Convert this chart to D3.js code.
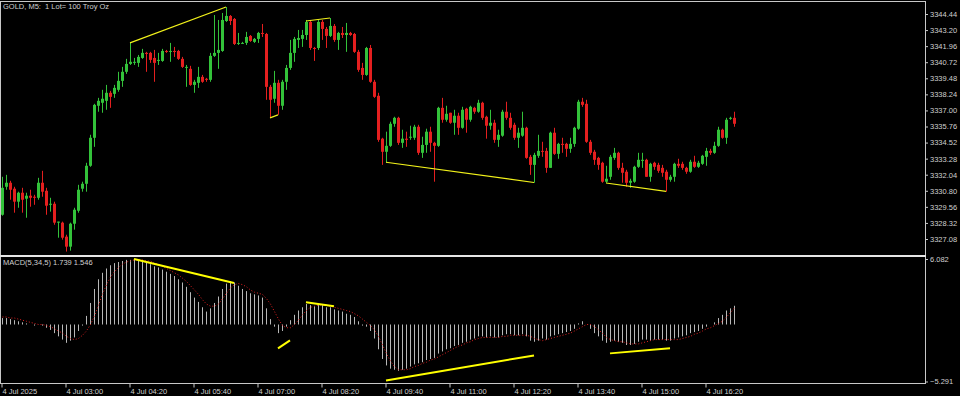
<!DOCTYPE html>
<html><head><meta charset="utf-8">
<script src="https://cdn.jsdelivr.net/npm/d3@7"></script>
<style>
html,body{margin:0;padding:0;background:#000;overflow:hidden}
svg{display:block}
text{font-family:"Liberation Sans",Arial,sans-serif;fill:#d0d0d0;white-space:pre}
</style></head><body><svg id="c" width="960" height="396"></svg>
<script>
const symbolTitle = "GOLD, M5:  1 Lot= 100 Troy Oz";
const macdTitle = "MACD(5,34,5) 1.739 1.546";

const open = [3328.95,3331.11,3331.42,3330.96,3329.96,3330.65,3330.19,3330.42,3330.34,3330.26,
3331.42,3330.80,3329.72,3329.80,3328.34,3328.34,3327.26,3326.49,3328.26,3329.26,
3330.96,3331.34,3332.73,3334.89,3337.36,3337.59,3337.74,3338.36,3338.28,3338.59,
3339.28,3339.98,3340.59,3340.67,3340.67,3341.05,3341.44,3341.44,3341.05,3340.82,
3340.82,3341.59,3341.59,3341.59,3341.59,3340.98,3340.36,3340.21,3338.97,3339.13,
3339.59,3339.44,3339.36,3341.21,3341.44,3341.59,3343.90,3344.29,3344.06,3342.13,
3342.21,3342.21,3342.75,3342.29,3342.52,3342.98,3342.90,3338.82,3337.90,3339.13,
3337.36,3339.21,3340.28,3341.44,3342.44,3342.52,3342.82,3343.83,3341.82,3341.82,
3343.83,3343.29,3342.75,3343.52,3342.44,3342.98,3342.82,3342.98,3342.90,3341.52,
3340.28,3339.74,3341.82,3339.21,3338.13,3334.82,3333.81,3334.27,3335.97,3336.43,
3334.50,3334.82,3334.89,3334.89,3335.74,3333.73,3334.34,3335.36,3334.50,3334.27,
3337.20,3336.28,3336.82,3336.05,3336.59,3335.66,3337.13,3336.28,3337.20,3336.90,
3337.59,3336.51,3335.82,3336.05,3334.73,3335.05,3336.90,3336.43,3335.89,3334.89,
3335.05,3335.66,3333.42,3332.80,3333.50,3333.88,3333.88,3332.57,3335.28,3333.65,
3334.42,3334.42,3334.04,3334.42,3335.59,3337.67,3337.51,3334.58,3333.81,3333.34,
3332.96,3331.50,3331.88,3333.34,3333.73,3332.57,3332.27,3331.42,3331.50,3332.65,
3333.11,3333.19,3331.88,3332.96,3332.80,3332.57,3332.27,3331.65,3331.88,3332.88,
3332.88,3332.57,3332.27,3333.04,3332.65,3332.88,3333.42,3333.88,3333.73,3334.27,
3335.51,3334.89,3336.36,3336.43];

const high = [3331.88,3332.03,3331.57,3331.11,3330.73,3331.03,3330.65,3330.88,3330.49,3331.80,
3332.34,3331.03,3330.26,3329.96,3328.42,3328.42,3327.41,3328.34,3329.49,3331.26,
3331.50,3332.96,3335.12,3337.51,3337.97,3338.59,3338.97,3338.51,3338.97,3339.98,
3340.36,3340.98,3342.21,3341.05,3341.28,3341.75,3341.52,3341.52,3341.67,3341.44,
3341.75,3341.67,3342.21,3341.90,3341.67,3341.13,3340.51,3340.44,3339.36,3340.36,
3339.74,3339.51,3341.44,3344.36,3343.98,3344.52,3344.98,3344.36,3344.13,3342.98,
3342.29,3343.06,3342.82,3342.59,3343.06,3343.67,3342.98,3338.97,3340.05,3339.36,
3339.36,3340.51,3342.44,3342.67,3343.21,3343.21,3343.98,3343.98,3341.90,3343.98,
3343.98,3343.44,3344.13,3343.67,3343.06,3343.44,3343.75,3343.06,3342.98,3341.67,
3340.67,3341.90,3342.05,3339.36,3338.36,3334.89,3335.36,3336.13,3336.51,3336.51,
3335.51,3335.36,3335.82,3335.89,3335.89,3334.97,3335.59,3335.74,3334.58,3337.28,
3337.97,3337.36,3336.82,3337.05,3336.82,3337.28,3337.20,3337.36,3337.28,3337.82,
3337.67,3336.59,3337.05,3336.28,3335.51,3337.05,3337.67,3336.82,3336.05,3335.66,
3336.90,3335.74,3333.57,3333.73,3335.12,3334.58,3334.11,3335.36,3335.66,3334.50,
3334.89,3334.50,3334.89,3335.74,3337.82,3337.97,3337.82,3334.73,3333.96,3333.42,
3333.04,3332.73,3333.57,3334.11,3333.81,3332.96,3332.42,3331.73,3332.73,3333.73,
3333.73,3333.27,3332.96,3333.04,3332.96,3332.80,3332.42,3332.03,3332.96,3333.27,
3333.04,3332.65,3333.19,3333.50,3333.11,3333.57,3334.11,3334.04,3334.58,3335.74,
3335.59,3336.43,3336.51,3336.90];

const low = [3328.88,3330.88,3330.11,3329.11,3329.49,3329.11,3328.72,3329.57,3329.72,3330.11,
3330.34,3328.95,3329.19,3328.18,3327.18,3327.03,3326.11,3326.18,3327.80,3329.11,
3330.73,3330.73,3332.65,3334.19,3336.90,3336.82,3337.05,3337.20,3337.97,3338.44,
3338.82,3339.82,3340.51,3340.51,3340.36,3340.98,3339.98,3340.67,3339.21,3340.51,
3340.75,3341.44,3340.75,3341.13,3340.90,3340.28,3338.82,3338.90,3338.36,3338.74,
3339.13,3339.21,3339.21,3341.13,3340.21,3341.52,3343.83,3343.59,3342.05,3342.05,
3342.13,3342.05,3342.29,3342.21,3342.21,3342.67,3337.82,3336.43,3337.59,3336.66,
3337.05,3338.59,3340.13,3340.75,3341.82,3341.90,3342.44,3341.67,3340.82,3341.67,
3342.44,3341.82,3342.67,3342.29,3341.67,3342.59,3341.52,3342.75,3341.44,3339.98,
3339.36,3339.67,3339.13,3337.97,3334.58,3332.80,3332.96,3334.19,3335.74,3334.34,
3334.11,3334.19,3334.73,3334.73,3333.57,3333.34,3333.73,3333.81,3331.50,3334.19,
3336.05,3336.13,3335.97,3335.12,3335.12,3335.59,3335.28,3336.13,3336.74,3336.82,
3336.28,3334.82,3335.51,3334.50,3334.19,3334.97,3336.28,3335.51,3334.73,3334.11,
3334.97,3333.27,3332.03,3331.42,3333.34,3333.42,3332.19,3332.57,3333.57,3333.27,
3333.73,3333.42,3333.73,3334.19,3335.51,3337.28,3334.50,3333.57,3332.80,3332.42,
3331.42,3331.42,3331.65,3333.19,3332.42,3331.42,3331.11,3331.03,3331.42,3332.57,
3332.57,3331.88,3331.50,3332.42,3332.19,3331.88,3330.73,3331.50,3331.50,3332.57,
3332.42,3332.11,3332.19,3332.57,3332.57,3332.80,3332.73,3333.57,3333.65,3334.19,
3334.82,3334.42,3336.28,3335.74];

const close = [3331.03,3331.42,3330.88,3329.96,3330.65,3330.11,3330.42,3330.26,3330.26,3331.42,
3330.73,3329.65,3329.80,3328.34,3328.42,3327.18,3326.49,3328.26,3329.34,3330.88,
3331.34,3332.73,3334.89,3337.43,3337.74,3337.90,3338.36,3338.05,3338.74,3339.28,
3339.98,3340.59,3340.75,3340.75,3341.13,3341.44,3341.36,3340.90,3340.67,3340.90,
3341.59,3341.52,3341.59,3341.52,3340.98,3340.36,3340.36,3338.97,3339.21,3339.59,
3339.21,3339.36,3341.21,3341.44,3341.67,3343.98,3344.29,3343.90,3342.13,3342.21,
3342.21,3342.67,3342.36,3342.52,3342.98,3342.90,3338.82,3337.82,3339.13,3337.36,
3339.21,3340.28,3341.44,3342.52,3342.59,3342.82,3343.83,3341.82,3341.75,3343.83,
3343.29,3342.75,3343.52,3342.44,3342.98,3342.82,3342.98,3342.82,3341.52,3340.13,
3339.74,3341.82,3339.21,3338.05,3334.73,3333.81,3334.27,3335.97,3336.43,3334.50,
3334.82,3334.73,3334.97,3335.74,3333.73,3334.34,3335.36,3334.50,3334.27,3337.20,
3336.28,3336.74,3336.05,3336.59,3335.66,3337.05,3336.28,3337.28,3336.90,3337.59,
3336.43,3335.82,3336.05,3334.73,3335.12,3336.90,3336.43,3335.66,3334.89,3335.28,
3335.66,3333.34,3332.80,3333.57,3333.88,3333.81,3332.57,3335.28,3333.65,3334.42,
3334.34,3334.04,3334.42,3335.66,3337.67,3337.43,3334.58,3333.73,3333.19,3332.80,
3331.50,3331.73,3333.42,3333.73,3332.57,3332.19,3331.42,3331.57,3332.65,3333.19,
3333.19,3331.88,3332.88,3332.65,3332.34,3332.19,3331.65,3331.88,3332.88,3332.73,
3332.57,3332.27,3333.04,3332.65,3332.96,3333.50,3333.88,3333.73,3334.27,3335.51,
3334.89,3336.28,3336.43,3335.97];

const macdMain = [0.6,0.6,0.5,0.4,0.3,0.2,0.1,0.0,-0.1,0.0,
-0.1,-0.3,-0.5,-0.8,-1.1,-1.4,-1.7,-1.5,-1.2,-0.6,
-0.1,0.8,2.0,3.3,4.2,4.8,5.2,5.5,5.7,5.8,
5.9,6.0,6.0,6.0,6.0,5.9,5.8,5.6,5.4,5.3,
5.1,4.9,4.7,4.5,4.2,3.9,3.5,3.0,2.5,2.1,
1.6,1.2,1.5,2.0,2.6,3.3,3.8,4.0,3.9,3.6,
3.3,3.1,2.9,2.8,2.7,2.5,1.5,0.5,-0.2,-0.8,
-0.6,-0.2,0.4,0.9,1.3,1.6,1.9,1.8,1.7,1.8,
1.8,1.6,1.6,1.4,1.3,1.2,1.0,0.9,0.7,0.3,
-0.1,-0.2,-0.6,-1.3,-2.3,-3.2,-3.8,-4.1,-4.2,-4.3,
-4.2,-4.1,-3.9,-3.7,-3.6,-3.5,-3.3,-3.2,-3.1,-2.7,
-2.5,-2.3,-2.2,-2.0,-1.9,-1.7,-1.6,-1.4,-1.3,-1.1,
-1.1,-1.2,-1.1,-1.2,-1.2,-1.0,-0.9,-0.9,-1.0,-1.0,
-0.9,-1.1,-1.5,-1.6,-1.5,-1.3,-1.4,-1.1,-1.0,-0.9,
-0.8,-0.7,-0.6,-0.4,0.1,0.3,0.0,-0.4,-0.8,-1.1,
-1.5,-1.7,-1.6,-1.5,-1.6,-1.7,-1.9,-1.9,-1.8,-1.6,
-1.4,-1.4,-1.5,-1.4,-1.4,-1.4,-1.5,-1.5,-1.3,-1.2,
-1.1,-1.0,-0.8,-0.7,-0.6,-0.4,-0.2,0.0,0.2,0.6,
0.9,1.3,1.5,1.739];

const macdSignal = [0.7,0.7,0.6,0.6,0.5,0.4,0.3,0.2,0.1,0.0,
0.0,-0.1,-0.2,-0.4,-0.6,-0.8,-1.1,-1.3,-1.4,-1.3,
-1.0,-0.6,0.0,0.8,1.8,2.8,3.7,4.4,4.9,5.3,
5.6,5.8,5.9,6.0,6.0,6.0,5.9,5.9,5.7,5.6,
5.4,5.2,5.0,4.8,4.6,4.3,4.0,3.6,3.2,2.8,
2.3,1.9,1.7,1.7,1.9,2.4,2.9,3.4,3.7,3.8,
3.7,3.5,3.2,3.0,2.9,2.8,2.4,1.9,1.2,0.5,
-0.1,-0.3,-0.3,0.0,0.4,0.9,1.3,1.6,1.7,1.8,
1.8,1.8,1.7,1.6,1.5,1.4,1.3,1.2,1.0,0.8,
0.5,0.2,-0.1,-0.5,-1.1,-1.9,-2.7,-3.4,-3.9,-4.2,
-4.2,-4.2,-4.1,-3.9,-3.8,-3.6,-3.5,-3.3,-3.2,-3.0,
-2.8,-2.6,-2.4,-2.2,-2.0,-1.9,-1.7,-1.6,-1.4,-1.3,
-1.2,-1.2,-1.2,-1.2,-1.2,-1.1,-1.1,-1.0,-1.0,-1.0,
-1.0,-1.0,-1.1,-1.3,-1.4,-1.5,-1.4,-1.3,-1.2,-1.1,
-1.0,-0.9,-0.8,-0.6,-0.4,-0.2,0.0,0.0,-0.2,-0.5,
-0.8,-1.2,-1.4,-1.5,-1.6,-1.6,-1.7,-1.8,-1.8,-1.8,
-1.7,-1.6,-1.5,-1.4,-1.4,-1.4,-1.4,-1.4,-1.4,-1.4,
-1.3,-1.2,-1.1,-0.9,-0.8,-0.6,-0.4,-0.3,-0.1,0.1,
0.3,0.7,1.1,1.546];

const priceTicks = [3344.44,3343.20,3341.96,3340.72,3339.48,3338.24,3337.00,3335.76,3334.52,3333.28,3332.04,3330.80,3329.56,3328.32,3327.08];
const macdTicks = [6.082,-5.291];
const timeTickBars = [0,16,32,48,64,80,96,112,128,144,160,176];
const timeTickLabels = ["4 Jul 2025","4 Jul 03:00","4 Jul 04:20","4 Jul 05:40","4 Jul 07:00","4 Jul 08:20","4 Jul 09:40","4 Jul 11:00","4 Jul 12:20","4 Jul 13:40","4 Jul 15:00","4 Jul 16:20"];

// trend lines: [bar1, value1, bar2, value2]
const priceTrends = [[32,3342.21,56,3344.98],[67,3336.43,69,3336.66],[76,3343.90,82,3344.13],[96,3333.00,133,3331.44],[151,3331.40,166,3330.75]];
const macdTrends = [[33,6.08,58,3.85],[69,-2.21,72,-1.47],[76,2.07,83,1.70],[96,-5.20,133,-2.87],[152,-2.68,167,-2.21]];

const n = open.length;
const svg = d3.select("#c");
const axisX = 925;
const frame = "#c8c8c8";
const bull = "#33c23a", bear = "#e41f1f";

const x = d3.scaleLinear().domain([0, n - 1]).range([2, 2 + 4 * (n - 1)]);
const y = d3.scaleLinear().domain([3327.08, 3344.44]).range([239, 14]);
const ym = d3.scaleLinear().domain([-5.291, 6.082]).range([381.5, 259]);

const defs = svg.append("defs");
defs.append("clipPath").attr("id", "cp1").append("rect").attr("x", 0).attr("y", 2).attr("width", axisX).attr("height", 253);
defs.append("clipPath").attr("id", "cp2").append("rect").attr("x", 0).attr("y", 257).attr("width", axisX).attr("height", 126);

svg.append("line").attr("x1", 0).attr("x2", axisX).attr("y1", 1.5).attr("y2", 1.5).attr("stroke", frame);
svg.append("line").attr("x1", 0.5).attr("x2", 0.5).attr("y1", 1).attr("y2", 384).attr("stroke", frame);
svg.append("line").attr("x1", axisX + 0.5).attr("x2", axisX + 0.5).attr("y1", 1).attr("y2", 384).attr("stroke", frame);
svg.append("rect").attr("x", 0).attr("y", 255).attr("width", axisX + 1).attr("height", 2).attr("fill", "#e6e6e6");
svg.append("line").attr("x1", 0).attr("x2", axisX + 1).attr("y1", 383.5).attr("y2", 383.5).attr("stroke", frame);

const gp = svg.append("g").attr("clip-path", "url(#cp1)");
const idx = d3.range(n);
gp.selectAll("line.w").data(idx).join("line")
  .attr("x1", i => x(i) + 0.5).attr("x2", i => x(i) + 0.5)
  .attr("y1", i => y(high[i])).attr("y2", i => y(low[i]))
  .attr("stroke", i => close[i] >= open[i] ? bull : bear).attr("stroke-width", 1);
gp.selectAll("rect.b").data(idx).join("rect")
  .attr("x", i => x(i) - 1).attr("width", 3)
  .attr("y", i => Math.min(y(open[i]), y(close[i])))
  .attr("height", i => Math.max(1, Math.abs(y(open[i]) - y(close[i]))))
  .attr("fill", i => close[i] >= open[i] ? bull : bear);

gp.selectAll("line.t").data(priceTrends).join("line")
  .attr("x1", d => x(d[0])).attr("y1", d => y(d[1])).attr("x2", d => x(d[2])).attr("y2", d => y(d[3]))
  .attr("stroke", "#f2f21a").attr("stroke-width", 1.2);

const gm = svg.append("g").attr("clip-path", "url(#cp2)");
gm.selectAll("line.h").data(idx).join("line")
  .attr("x1", i => x(i) + 0.5).attr("x2", i => x(i) + 0.5)
  .attr("y1", ym(0)).attr("y2", i => ym(macdMain[i]))
  .attr("stroke", "#b8b8b8").attr("stroke-width", 1);
gm.append("path").datum(idx)
  .attr("d", d3.line().x(i => x(i) + 0.5).y(i => ym(macdSignal[i])))
  .attr("fill", "none").attr("stroke", "#e02020").attr("stroke-width", 1).attr("stroke-dasharray", "1,2");
gm.selectAll("line.t").data(macdTrends).join("line")
  .attr("x1", d => x(d[0])).attr("y1", d => ym(d[1])).attr("x2", d => x(d[2])).attr("y2", d => ym(d[3]))
  .attr("stroke", "#ffff00").attr("stroke-width", 2);

const fs = 7.5;
const pa = svg.append("g").attr("transform", `translate(${axisX},0)`)
  .call(d3.axisRight(y).tickValues(priceTicks).tickFormat(d3.format(".2f")).tickSize(3).tickPadding(2));
pa.select(".domain").remove();
pa.selectAll(".tick line").attr("stroke", frame);
pa.selectAll(".tick text").attr("fill", (d) => (d === 3337.00 || d === 3335.76) ? "#8a8a8a" : "#d0d0d0")
  .attr("font-size", fs).attr("font-family", "Liberation Sans, Arial, sans-serif");

const ma = svg.append("g").attr("transform", `translate(${axisX},0)`)
  .call(d3.axisRight(ym).tickValues(macdTicks).tickFormat(d3.format(".3f")).tickSize(3).tickPadding(2));
ma.select(".domain").remove();
ma.selectAll(".tick line").attr("stroke", frame);
ma.selectAll(".tick text").attr("fill", "#d0d0d0").attr("font-size", fs).attr("font-family", "Liberation Sans, Arial, sans-serif");

const xa = svg.append("g").attr("transform", "translate(0,383.5)");
timeTickBars.forEach((b, k) => {
  const g = xa.append("g").attr("transform", `translate(${x(b) - 0.5},0)`);
  g.append("line").attr("x1", 0.5).attr("x2", 0.5).attr("y1", 0).attr("y2", 4).attr("stroke", frame);
  g.append("text").attr("x", 1).attr("y", 10).attr("font-size", fs).text(timeTickLabels[k]);
});

svg.append("text").attr("x", 3).attr("y", 9).attr("font-size", fs).text(symbolTitle);
svg.append("text").attr("x", 3).attr("y", 265).attr("font-size", fs).text(macdTitle);
</script></body></html>
